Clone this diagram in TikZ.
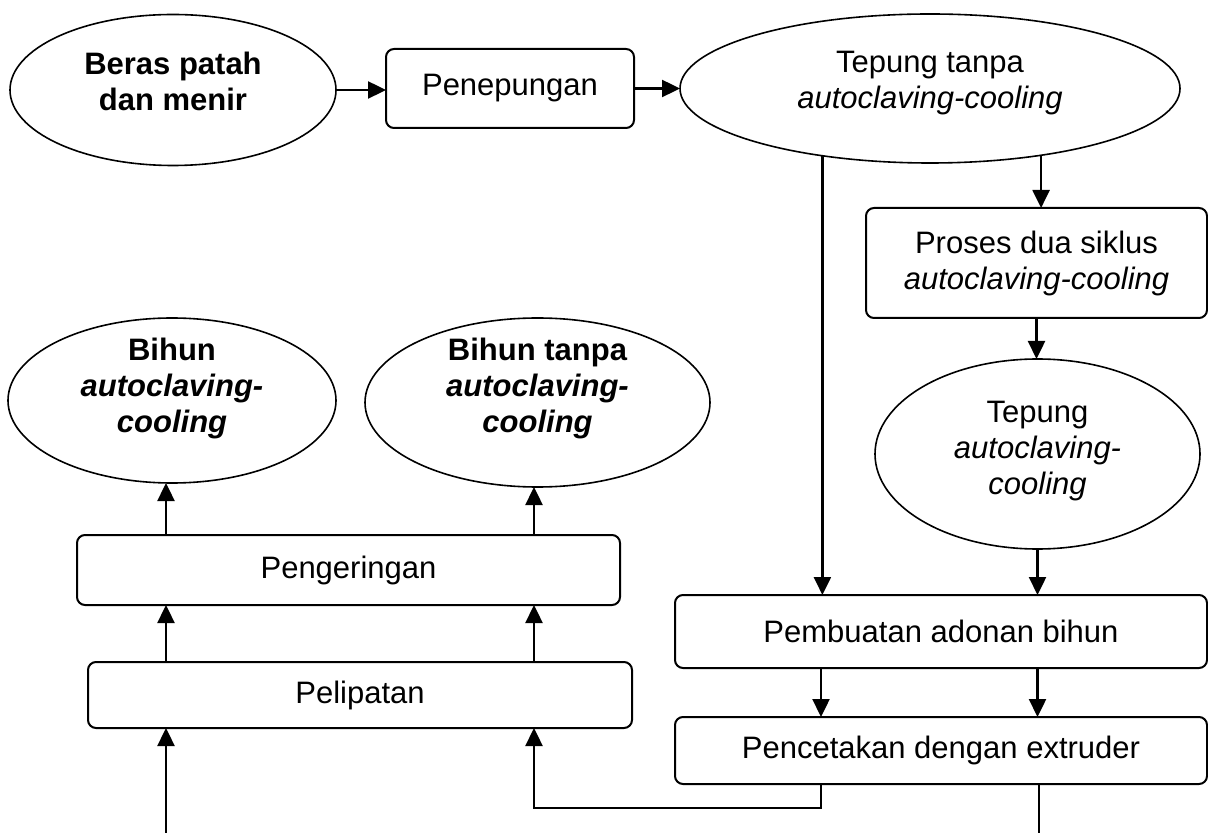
\documentclass[tikz,border=0pt]{standalone}
\usepackage{fontspec}
\setmainfont{Liberation Sans}
\usetikzlibrary{shapes.geometric,arrows.meta}

\begin{document}
\begin{tikzpicture}[x=0.5pt, y=-0.5pt,
    proc/.style={rectangle, draw, line width=1pt, rounded corners=4pt, align=center, inner sep=0pt, outer sep=0pt, font=\fontsize{15.5}{18}\selectfont},
    bahan/.style={ellipse, draw, line width=0.8pt, align=center, inner xsep=0pt, inner ysep=-4pt, outer sep=0pt, font=\fontsize{15.5}{18}\selectfont},
    hasil/.style={bahan, font=\fontsize{15.5}{18}\selectfont\bfseries},
    arr/.style={-{Triangle[length=9pt, width=8.5pt]}, line width=1.2pt}]

    \useasboundingbox (0,0) rectangle (1208,833);

    % top row
    \node[hasil, minimum width=163pt, minimum height=75.5pt, text depth=9pt] (beras) at (173,90) {Beras patah\\dan menir};
    \node[proc, minimum width=124pt, minimum height=39.5pt] (penep) at (510,88.5) {Penepungan};
    \node[bahan, minimum width=250pt, minimum height=74.5pt, text depth=8.5pt] (tepung) at (930,88.5) {Tepung tanpa\\\textit{autoclaving-cooling}};

    % right column
    \node[proc, minimum width=170.5pt, minimum height=55pt] (proses) at (1036.5,263) {Proses dua siklus\\\textit{autoclaving-cooling}};
    \node[bahan, minimum width=162.5pt, minimum height=95pt, text depth=6.5pt] (tepac) at (1037.5,454) {Tepung\\\textit{autoclaving-}\\\textit{cooling}};
    \node[proc, minimum width=266pt, minimum height=36.5pt] (adonan) at (941,631.5) {Pembuatan adonan bihun};
    \node[proc, minimum width=266pt, minimum height=33.5pt] (cetak) at (941,750.5) {Pencetakan dengan extruder};

    % left column
    \node[proc, minimum width=272pt, minimum height=33pt] (pelipat) at (360,695) {Pelipatan};
    \node[proc, minimum width=271.5pt, minimum height=35pt] (kering) at (348.5,570) {Pengeringan};
    \node[hasil, minimum width=164pt, minimum height=82.5pt, text depth=15pt] (bihunac) at (172,400.5) {Bihun\\\textit{autoclaving-}\\\textit{cooling}};
    \node[hasil, minimum width=172.5pt, minimum height=84.5pt, text depth=17pt] (bihuntp) at (537.5,402.5) {Bihun tanpa\\\textit{autoclaving-}\\\textit{cooling}};

    \coordinate (colL) at (166,0);
    \coordinate (colR) at (534,0);
    \coordinate (colM) at (821,0);
    \coordinate (inL) at (166,833);
    \coordinate (outR) at (1039,833);

    \draw[arr] (beras.east) -- (beras.east -| penep.west);
    \draw[arr] (penep.east) -- (tepung.west);
    \draw[arr] (tepung.-148.4) -- (tepung.-148.4 |- adonan.north);
    \draw[arr] (tepung.-31.3) -- (tepung.-31.3 |- proses.north);
    \draw[arr] (proses.south) -- (proses.south |- tepac.north);
    \draw[arr] (tepac.south) -- (tepac.south |- adonan.north);
    \draw[arr] (adonan.south -| colM) -- (cetak.north -| colM);
    \draw[arr] (adonan.south -| tepac.south) -- (cetak.north -| tepac.south);
    \draw[arr] (cetak.south -| colM) -- ++(0,24) -| (pelipat.south -| colR);
    \draw[line width=1pt] (outR |- cetak.south) -- (outR);
    \draw[arr] (inL) -- (inL |- pelipat.south);
    \draw[arr] (pelipat.north -| colL) -- (kering.south -| colL);
    \draw[arr] (pelipat.north -| colR) -- (kering.south -| colR);
    \draw[arr] (kering.north -| colL) -- (colL |- bihunac.south);
    \draw[arr] (kering.north -| colR) -- (colR |- bihuntp.south);

\end{tikzpicture}
\end{document}
